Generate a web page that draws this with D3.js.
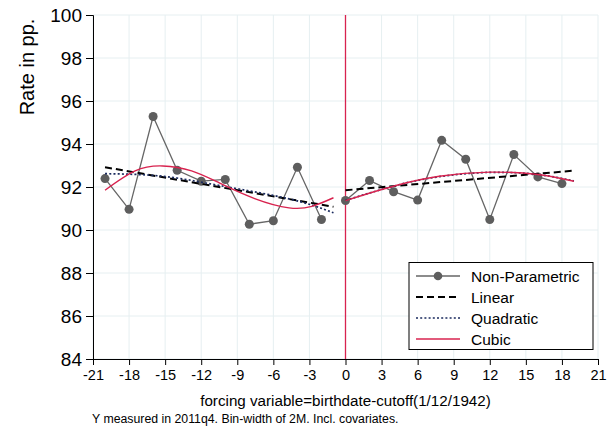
<!DOCTYPE html>
<html>
<head>
<meta charset="utf-8">
<script src="https://cdn.jsdelivr.net/npm/d3@7"></script>
<style>
  body { margin: 0; background: #fff; }
  text { font-family: "Liberation Sans", Arial, sans-serif; }
</style>
</head>
<body>
<script>
// non-parametric bin means
var binX = [-20, -18, -16, -14, -12, -10, -8, -6, -4, -2, 0, 2, 4, 6, 8, 10, 12, 14, 16, 18];
var binY = [92.39, 90.96, 95.28, 92.78, 92.27, 92.35, 90.27, 90.43, 92.92, 90.49,
            91.37, 92.30, 91.78, 91.39, 94.17, 93.29, 90.49, 93.51, 92.47, 92.16];

// fitted lines (left / right of cutoff)
var linLeftX = [-20, -1];
var linLeftY = [92.92, 91.08];
var linRightX = [0, 19];
var linRightY = [91.85, 92.76];

var quadLeftX = [-20, -15.2, -10.5, -4.7, -1];
var quadLeftY = [92.62, 92.50, 92.07, 91.45, 90.80];
var quadRightX = [0, 4.2, 7.8, 12, 16, 19];
var quadRightY = [91.38, 92.07, 92.48, 92.68, 92.58, 92.28];

var cubLeftX = [-20, -17.5, -15.2, -12.8, -10.5, -7.5, -4.7, -2.8, -1];
var cubLeftY = [91.85, 92.75, 92.98, 92.75, 92.19, 91.45, 91.03, 91.10, 91.50];
var cubRightX = [0, 4.2, 7.8, 12, 16, 19];
var cubRightY = [91.37, 92.07, 92.50, 92.69, 92.58, 92.27];

var xTicks = [-21, -18, -15, -12, -9, -6, -3, 0, 3, 6, 9, 12, 15, 18, 21];
var yTicks = [84, 86, 88, 90, 92, 94, 96, 98, 100];

var legendLabels = ["Non-Parametric", "Linear", "Quadratic", "Cubic"];

var width = 613, height = 428;
var plotL = 93, plotR = 598, plotT = 15, plotB = 359;

var svg = d3.select('body').append('svg')
    .attr('width', width)
    .attr('height', height);

var x = d3.scaleLinear().domain([-21, 21]).range([plotL, plotR]);
var y = d3.scaleLinear().domain([84, 100]).range([plotB, plotT]);

// grid
var grid = svg.append('g').attr('class', 'grid');
grid.selectAll('.vg').data(xTicks).enter().append('line')
    .attr('x1', function(d) { return x(d); })
    .attr('x2', function(d) { return x(d); })
    .attr('y1', plotT).attr('y2', plotB)
    .attr('stroke', '#e6eff1').attr('stroke-width', 1);
grid.selectAll('.hg').data(yTicks).enter().append('line')
    .attr('x1', plotL).attr('x2', plotR)
    .attr('y1', function(d) { return y(d); })
    .attr('y2', function(d) { return y(d); })
    .attr('stroke', '#e6eff1').attr('stroke-width', 1);

// axes
var xAxis = svg.append('g')
    .attr('transform', 'translate(0,' + plotB + ')')
    .call(d3.axisBottom(x).tickValues(xTicks).tickSize(6).tickPadding(5)
        .tickFormat(function(d) { return String(d); }));
xAxis.select('.domain').attr('stroke', '#000');
xAxis.selectAll('text').attr('font-size', 14.5).attr('fill', '#000')
    .attr('font-family', '"Liberation Sans", Arial, sans-serif');

var yAxis = svg.append('g')
    .attr('transform', 'translate(' + plotL + ',0)')
    .call(d3.axisLeft(y).tickValues(yTicks).tickSize(7).tickPadding(4)
        .tickFormat(function(d) { return String(d); }));
yAxis.select('.domain').attr('stroke', '#000');
yAxis.selectAll('text').attr('font-size', 19).attr('fill', '#000')
    .attr('dy', '0.36em')
    .attr('font-family', '"Liberation Sans", Arial, sans-serif');

// cutoff line
svg.append('line')
    .attr('x1', x(0)).attr('x2', x(0))
    .attr('y1', plotT).attr('y2', plotB)
    .attr('stroke', '#d8234f').attr('stroke-width', 1.3);

function pts(xs, ys) {
    return xs.map(function(v, i) { return [v, ys[i]]; });
}
var line = d3.line()
    .x(function(d) { return x(d[0]); })
    .y(function(d) { return y(d[1]); });
var smooth = d3.line()
    .x(function(d) { return x(d[0]); })
    .y(function(d) { return y(d[1]); })
    .curve(d3.curveNatural);

// non-parametric: split at cutoff
var np = pts(binX, binY);
var npLeft = np.filter(function(d) { return d[0] < 0; });
var npRight = np.filter(function(d) { return d[0] >= 0; });
[npLeft, npRight].forEach(function(seg) {
    svg.append('path').attr('d', line(seg))
        .attr('fill', 'none').attr('stroke', '#666').attr('stroke-width', 1.3);
});
svg.append('g').selectAll('circle').data(np).enter().append('circle')
    .attr('cx', function(d) { return x(d[0]); })
    .attr('cy', function(d) { return y(d[1]); })
    .attr('r', 4.5)
    .attr('fill', '#5e5e5e');

// linear
[pts(linLeftX, linLeftY), pts(linRightX, linRightY)].forEach(function(seg) {
    svg.append('path').attr('d', line(seg))
        .attr('fill', 'none').attr('stroke', '#000')
        .attr('stroke-width', 2).attr('stroke-dasharray', '7,4');
});
// quadratic
[pts(quadLeftX, quadLeftY), pts(quadRightX, quadRightY)].forEach(function(seg) {
    svg.append('path').attr('d', smooth(seg))
        .attr('fill', 'none').attr('stroke', '#1a2a5e')
        .attr('stroke-width', 1.7).attr('stroke-dasharray', '2,2.2');
});
// cubic
[pts(cubLeftX, cubLeftY), pts(cubRightX, cubRightY)].forEach(function(seg) {
    svg.append('path').attr('d', smooth(seg))
        .attr('fill', 'none').attr('stroke', '#d8234f').attr('stroke-width', 1.4);
});

// legend
var lg = svg.append('g').attr('class', 'legend');
lg.append('rect')
    .attr('x', 409).attr('y', 262.5).attr('width', 184).attr('height', 87)
    .attr('fill', '#fff').attr('stroke', '#000').attr('stroke-width', 1);
var rowY = [276, 297, 318, 339];
var lx1 = 416, lx2 = 460;
lg.append('line').attr('x1', lx1).attr('x2', lx2).attr('y1', rowY[0]).attr('y2', rowY[0])
    .attr('stroke', '#666').attr('stroke-width', 1.3);
lg.append('circle').attr('cx', (lx1 + lx2) / 2).attr('cy', rowY[0]).attr('r', 4.3).attr('fill', '#5e5e5e');
lg.append('line').attr('x1', lx1).attr('x2', lx2).attr('y1', rowY[1]).attr('y2', rowY[1])
    .attr('stroke', '#000').attr('stroke-width', 2).attr('stroke-dasharray', '7,4');
lg.append('line').attr('x1', lx1).attr('x2', lx2).attr('y1', rowY[2]).attr('y2', rowY[2])
    .attr('stroke', '#1a2a5e').attr('stroke-width', 1.7).attr('stroke-dasharray', '2,2.2');
lg.append('line').attr('x1', lx1).attr('x2', lx2).attr('y1', rowY[3]).attr('y2', rowY[3])
    .attr('stroke', '#d8234f').attr('stroke-width', 1.4);
lg.selectAll('text').data(legendLabels).enter().append('text')
    .attr('x', 471)
    .attr('y', function(d, i) { return rowY[i]; })
    .attr('dy', '0.36em')
    .attr('font-size', 15.5)
    .text(function(d) { return d; });

// titles
svg.append('text')
    .attr('transform', 'translate(34,67) rotate(-90)')
    .attr('text-anchor', 'middle')
    .attr('font-size', 20)
    .text('Rate in pp.');
svg.append('text')
    .attr('x', x(0)).attr('y', 406)
    .attr('text-anchor', 'middle')
    .attr('font-size', 15.2)
    .text('forcing variable=birthdate-cutoff(1/12/1942)');
svg.append('text')
    .attr('x', 92).attr('y', 423)
    .attr('font-size', 12.3)
    .text('Y measured in 2011q4. Bin-width of 2M. Incl. covariates.');
</script>
</body>
</html>
